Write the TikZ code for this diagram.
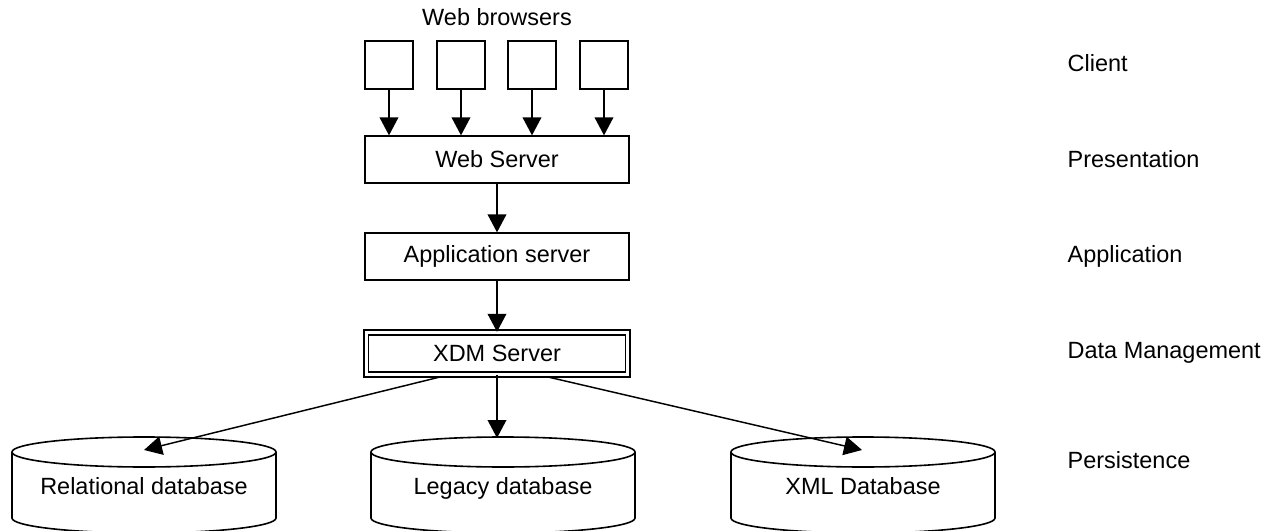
\documentclass[tikz,border=0pt]{standalone}
\usepackage{fontspec}
\setmainfont{Liberation Sans}
\usetikzlibrary{arrows.meta}
\begin{document}
\begin{tikzpicture}[
    x=0.75pt, y=-0.75pt,
    every node/.style={font=\fontsize{17.6}{21}\selectfont},
    browser/.style={draw, line width=1.2pt, minimum width=36pt, minimum height=36pt},
    server/.style={draw, line width=1.2pt, minimum width=198pt, minimum height=35pt},
    xdmbox/.style={draw, line width=1pt, double, double distance=2.6pt, minimum width=196pt, minimum height=31.5pt},
    db/.style={line width=1.2pt},
    layer/.style={anchor=west},
    arrow/.style={-{Triangle[length=13.5pt, width=14pt]}, line width=1.1pt}
]
    \useasboundingbox (0,0) rectangle (1271,531);

    \node (browsers) at (497,17) {Web browsers};
    \foreach \bx [count=\i] in {389,461,532,604}
        \node[browser] (b\i) at (\bx,65) {};
    \node[server] (web) at (497,159.5) {Web Server};
    \node[server] (app) at (497,256.5) {Application server};
    \node[xdmbox] (xdm) at (497,353.5) {XDM Server};

    \foreach \cx/\nm/\txt in {144/rel/Relational database, 503/leg/Legacy database, 863/xmldb/XML Database} {
        \draw[db] (\cx-132,452) -- (\cx-132,518)
            arc[start angle=180, end angle=360, x radius=99pt, y radius=11.25pt] -- (\cx+132,452);
        \draw[db] (\cx,452) ellipse[x radius=99pt, y radius=11.25pt];
        \node[anchor=base] (\nm) at (\cx,494) {\txt};
    }

    \node[layer] (client) at (1063,63) {Client};
    \node[layer] (present) at (1063,159) {Presentation};
    \node[layer] (appl) at (1063,256) {Application};
    \node[layer] (datam) at (1063,353) {Data Management};
    \node[layer] (persist) at (1063,460) {Persistence};

    \coordinate (xdmL) at (440,377);
    \coordinate (xdmR) at (548,377);
    \coordinate (relc) at (144,450);
    \coordinate (legc) at (497,438);
    \coordinate (xmlc) at (862,450);

    \foreach \i in {1,...,4}
        \draw[arrow] (b\i) -- (b\i |- web.north);
    \draw[arrow] (web) -- (app);
    \draw[arrow] (app) -- (xdm);
    \draw[arrow] (xdm) -- (legc);
    \draw[arrow] (xdmL) -- (relc);
    \draw[arrow] (xdmR) -- (xmlc);
\end{tikzpicture}
\end{document}
